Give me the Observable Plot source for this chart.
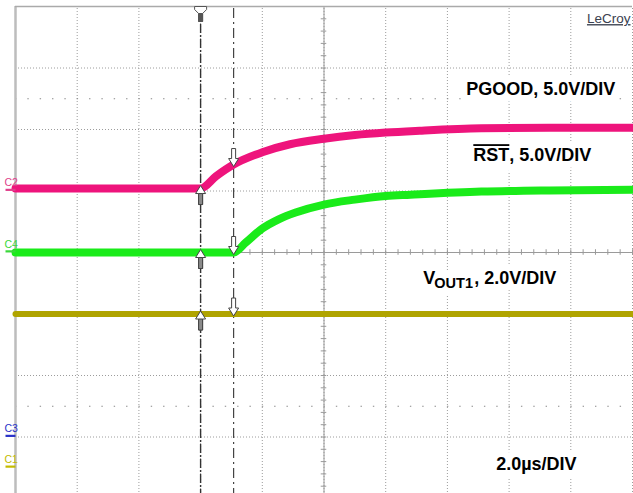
<!DOCTYPE html>
<html><head><meta charset="utf-8">
<script src="https://cdn.jsdelivr.net/npm/d3@7"></script>
<script src="https://cdn.jsdelivr.net/npm/@observablehq/plot@0.6"></script>
<style>
html,body{margin:0;padding:0;background:#fff;overflow:hidden;}
#chart svg{display:block;}
</style></head><body><div id="chart"></div>
<script>
// Time in µs (2.0 µs/div, 10 divisions); level in divisions above screen bottom (8 divisions)
const pgoodTime  = [0, 6.0, 6.5, 7.07, 8.0, 8.9, 10.0, 11.0, 12.0, 13.1, 15.1, 17.3, 20];
const pgoodLevel = [5.04, 5.04, 5.24, 5.43, 5.63, 5.76, 5.85, 5.91, 5.95, 5.98, 6.02, 6.03, 6.03];
const rstTime    = [0, 7.07, 7.46, 8.0, 8.53, 9.08, 10.0, 11.0, 12.0, 12.8, 15.1, 17.3, 20];
const rstLevel   = [4.0, 4.0, 4.16, 4.39, 4.54, 4.65, 4.78, 4.86, 4.92, 4.94, 4.99, 5.01, 5.02];
const voutTime   = [0, 20];
const voutLevel  = [3.0, 3.0];
const traceColors = ["#ee147c", "#1aeb1a", "#b0a400"];

const cursorTimes = [6.0, 7.07];
const gridTimes  = [0, 2, 4, 6, 8, 10, 12, 14, 16, 18, 20];
const gridLevels = [0, 1, 2, 3, 4, 5, 6, 7, 8];
const halfLevels = [1.5, 6.5];
const centerTime = 10, centerLevel = 4;

const channelNames   = ["C2", "C4", "C3", "C1"];
const channelColors  = ["#e0408c", "#3ad83a", "#2a32c8", "#c4ba00"];
const channelOffsets = [5.02, 4.02, 1.02, 0.52];

const labelText  = ["PGOOD, 5.0V/DIV", "RST", ", 5.0V/DIV", "V", "OUT1", ", 2.0V/DIV", "2.0µs/DIV"];
const labelTime  = [14.61, 14.84, 14.84, 13.22, 13.22, 13.22, 15.58];
const labelLevel = [6.569, 5.485, 5.485, 3.491, 3.491, 3.491, 0.467];

const brandText = "LeCroy";

// ---- build tables ----
const toRows = (ts, vs) => ts.map((t, i) => ({t, v: vs[i]}));
const pgood = toRows(pgoodTime, pgoodLevel);
const rst = toRows(rstTime, rstLevel);
const vout = toRows(voutTime, voutLevel);
const minorTimes = d3.range(0, 20.0001, 0.4);
const minorLevels = d3.range(0, 8.0001, 0.2);
const channels = channelNames.map((n, i) => ({n, c: channelColors[i], v: channelOffsets[i]}));
const interp = (rows, t) => {
  for (let i = 1; i < rows.length; i++) if (t <= rows[i].t) {
    const a = rows[i-1], b = rows[i];
    return a.v + (b.v - a.v) * (t - a.t) / ((b.t - a.t) || 1);
  }
  return rows[rows.length-1].v;
};
const traces = [pgood, rst, vout];
const upMarks = traces.map(r => ({t: cursorTimes[0], v: interp(r, cursorTimes[0])}));
const downMarks = traces.map(r => ({t: cursorTimes[1], v: interp(r, cursorTimes[1])}));
const labelRows = labelText.map((text, i) => ({text, t: labelTime[i], v: labelLevel[i]}));

// ---- symbols ----
const upArrow = {draw(c){c.moveTo(0,0);c.lineTo(5,8);c.lineTo(2,8);c.lineTo(2,19);c.lineTo(-2,19);c.lineTo(-2,8);c.lineTo(-5,8);c.closePath();}};
const upShaft = {draw(c){c.moveTo(-2,8);c.lineTo(2,8);c.lineTo(2,19);c.lineTo(-2,19);c.closePath();}};
const downArrow = {draw(c){c.moveTo(0,0);c.lineTo(5,-8);c.lineTo(2,-8);c.lineTo(2,-18);c.lineTo(-2,-18);c.lineTo(-2,-8);c.lineTo(-5,-8);c.closePath();}};
const trigMark = {draw(c){c.moveTo(-6,0);c.lineTo(6,0);c.lineTo(6,3);c.lineTo(2,7);c.lineTo(2,15);c.lineTo(-2,15);c.lineTo(-2,7);c.lineTo(-6,3);c.closePath();}};
const trigShaft = {draw(c){c.moveTo(-2,7);c.lineTo(2,7);c.lineTo(2,15);c.lineTo(-2,15);c.closePath();}};
const chanBar = {draw(c){c.moveTo(-10,-1);c.lineTo(0,-1);c.lineTo(0,1.2);c.lineTo(-10,1.2);c.closePath();}};

const FONT = "'Liberation Sans', Arial, sans-serif";
const specs = [
  {i:0, dx:0, dy:0, size:18},
  {i:1, dx:0, dy:0, size:18},
  {i:2, dx:36, dy:0, size:18},
  {i:3, dx:0, dy:0, size:18},
  {i:4, dx:11, dy:4, size:14.5},
  {i:5, dx:51, dy:0, size:18},
  {i:6, dx:0, dy:0, size:18}
];
const textOpts = s => ({x:"t", y:"v", text:"text", dx:s.dx, dy:s.dy, fontSize:s.size, fontWeight:"bold",
  fontFamily:FONT, textAnchor:"start", lineAnchor:"bottom"});
const halos = specs.map(s => Plot.text([labelRows[s.i]], {...textOpts(s), fill:"white", stroke:"white", strokeWidth:14, strokeLinejoin:"round"}));
const texts = specs.map(s => Plot.text([labelRows[s.i]], {...textOpts(s), fill:"#000"}));

const grid = {stroke:"#9c9c9c", strokeWidth:1, strokeDasharray:"1,2"};

const plot = Plot.plot({
  width: 633, height: 493,
  marginLeft: 0, marginRight: 0, marginTop: 0, marginBottom: 0,
  x: {domain: [0, 20], range: [15, 632], axis: null},
  y: {domain: [0, 8], range: [498, 6], axis: null},
  style: {background: "#fff", fontFamily: FONT},
  marks: [
    Plot.ruleX(gridTimes, {x: d => d, y1: 0, y2: 8, ...grid}),
    Plot.ruleY(gridLevels, {y: d => d, x1: 0, x2: 20, ...grid}),
    Plot.ruleY(halfLevels, {y: d => d, x1: 0, x2: 20, stroke:"#888", strokeWidth:1.2, strokeDasharray:"1.4,10.94", strokeDashoffset: 0}),
    Plot.ruleX([centerTime], {x: d => d, y1: 0, y2: 8, stroke:"#9a9a9a", strokeWidth:1}),
    Plot.ruleY([centerLevel], {y: d => d, x1: 0, x2: 20, stroke:"#9a9a9a", strokeWidth:1}),
    Plot.ruleY(minorLevels, {y: d => d, x1: centerTime - 0.09, x2: centerTime + 0.09, stroke:"#9a9a9a"}),
    Plot.ruleX(minorTimes, {x: d => d, y1: centerLevel - 0.045, y2: centerLevel + 0.045, stroke:"#9a9a9a"}),
    Plot.ruleX([0], {x: d => d, y1: 0, y2: 8, stroke:"#bdbdbd", strokeWidth:2.5}),
    Plot.ruleY([8], {y: d => d, x1: 0, x2: 20, stroke:"#aaa", strokeWidth:1.5}),
    ...halos,
    ...texts,
    Plot.ruleX([cursorTimes[0]], {x: d => d, y1: 0, y2: 8, stroke:"#333", strokeWidth:1.4, strokeDasharray:"9,2,2,2"}),
    Plot.ruleX([cursorTimes[1]], {x: d => d, y1: 0, y2: 8, stroke:"#444", strokeWidth:1.2, strokeDasharray:"10,4,2,4"}),
    Plot.line(vout, {x:"t", y:"v", stroke: traceColors[2], strokeWidth: 6}),
    Plot.line(rst, {x:"t", y:"v", stroke: traceColors[1], strokeWidth: 8, curve: "monotone-x"}),
    Plot.line(pgood, {x:"t", y:"v", stroke: traceColors[0], strokeWidth: 8, curve: "monotone-x"}),
    Plot.dot(upMarks, {x:"t", y:"v", dy:-3, symbol: upArrow, fill:"#fff", stroke:"#444", strokeWidth:1}),
    Plot.dot(upMarks, {x:"t", y:"v", dy:-3, symbol: upShaft, fill:"#8a8a8a", stroke:"#444", strokeWidth:1}),
    Plot.dot(downMarks, {x:"t", y:"v", dy:2, symbol: downArrow, fill:"#fff", stroke:"#444", strokeWidth:1}),
    Plot.dot([cursorTimes[0]], {x: d => d, y: 8, symbol: trigMark, fill:"#fff", stroke:"#555", strokeWidth:1}),
    Plot.dot([cursorTimes[0]], {x: d => d, y: 8, symbol: trigShaft, fill:"#555", stroke:"#555", strokeWidth:1}),
    Plot.dot(channels, {x: 0, y: "v", symbol: chanBar, fill: "c", stroke: "none"}),
    Plot.text(channels, {x: 0, y: "v", text: "n", fill: "c", dx: -11, dy: -3.5, textAnchor: "start", lineAnchor: "bottom",
      fontSize: 10.5, fontFamily: "'Liberation Sans Narrow', 'Liberation Sans', Arial, sans-serif"}),
    Plot.text([brandText], {x: 20, y: 7.73, text: d => d, textAnchor: "end", lineAnchor: "bottom", dx: -2,
      fontSize: 13.5, fill: "#3a4150", fontFamily: FONT})
  ]
});
document.getElementById("chart").appendChild(plot);
d3.select(plot).selectAll("text").filter(function(){ return this.textContent === "RST"; })
  .style("text-decoration", "overline");
d3.select(plot).selectAll("text").filter(function(){ return this.textContent === brandText; })
  .style("text-decoration", "underline");
</script></body></html>
